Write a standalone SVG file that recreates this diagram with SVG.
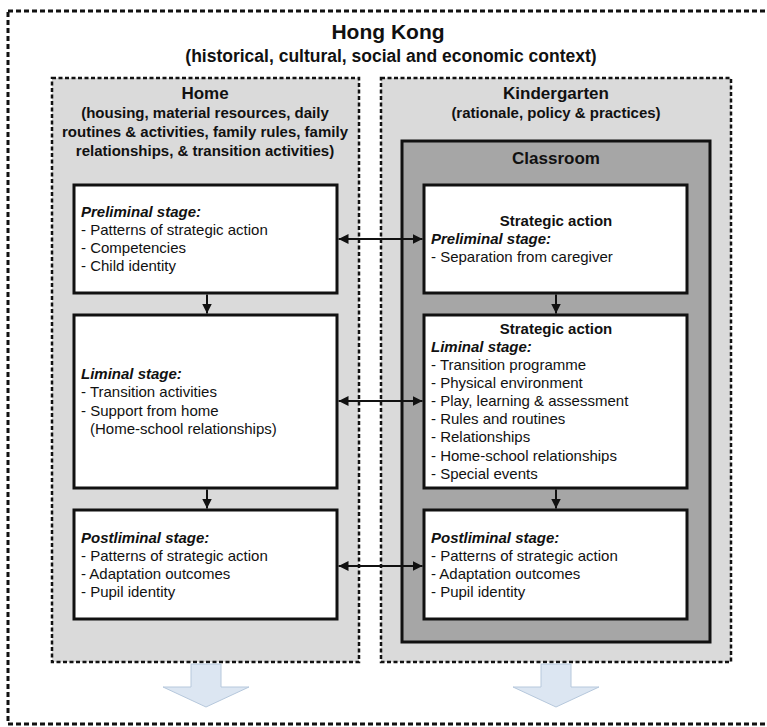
<svg xmlns="http://www.w3.org/2000/svg" width="767" height="727" viewBox="0 0 767 727">
<style>
text{font-family:"Liberation Sans",Arial,sans-serif;fill:#111}
.t{font-size:15px}
.b{font-weight:bold}
.bi{font-weight:bold;font-style:italic}
.c{text-anchor:middle}
.zone{fill:#dadada;stroke:#111;stroke-width:2.5;stroke-dasharray:4 2.5}
.box{fill:#fff;stroke:#111;stroke-width:3}
.ln{stroke:#111;stroke-width:2;fill:none}
.big{fill:#dce6f2;stroke:#b6c8dc;stroke-width:1}
</style>
<defs>
<marker id="ah" viewBox="0 0 10 10" refX="10" refY="5" markerWidth="5" markerHeight="5" orient="auto-start-reverse" markerUnits="strokeWidth">
<path d="M0,0 L10,5 L0,10 z" fill="#111"/>
</marker>
</defs>
<rect id="outer" x="8" y="11" width="790" height="713" fill="#fff" stroke="#111" stroke-width="3" stroke-dasharray="5 3"/>
<g id="title">
<text class="b c" x="388" y="39" font-size="21">Hong Kong</text>
<text class="b c" x="391" y="62" font-size="17.5">(historical, cultural, social and economic context)</text>
</g>
<g id="home">
<rect class="zone" x="52" y="78" width="307" height="584"/>
<text class="b c" x="205" y="99" font-size="17">Home</text>
<text class="t b c" x="205" y="118">(housing, material resources, daily</text>
<text class="t b c" x="205" y="137">routines &amp; activities, family rules, family</text>
<text class="t b c" x="205" y="156">relationships, &amp; transition activities)</text>
</g>
<g id="kindergarten">
<rect class="zone" x="381" y="78" width="350" height="584"/>
<text class="b c" x="556" y="99" font-size="17">Kindergarten</text>
<text class="t b c" x="556" y="118">(rationale, policy &amp; practices)</text>
</g>
<g id="classroom">
<rect x="402" y="141" width="308" height="501" fill="#a6a6a6" stroke="#111" stroke-width="3"/>
<text class="b c" x="556" y="164" font-size="17">Classroom</text>
</g>
<g id="home-preliminal">
<rect class="box" x="74" y="185" width="263" height="108"/>
<text class="t bi" x="81" y="217">Preliminal stage:</text>
<text class="t" x="81" y="235">- Patterns of strategic action</text>
<text class="t" x="81" y="253">- Competencies</text>
<text class="t" x="81" y="271">- Child identity</text>
</g>
<g id="home-liminal">
<rect class="box" x="74" y="315" width="263" height="173"/>
<text class="t bi" x="81" y="379">Liminal stage:</text>
<text class="t" x="81" y="397">- Transition activities</text>
<text class="t" x="81" y="416">- Support from home</text>
<text class="t" x="90" y="434">(Home-school relationships)</text>
</g>
<g id="home-postliminal">
<rect class="box" x="74" y="510" width="263" height="109"/>
<text class="t bi" x="81" y="543">Postliminal stage:</text>
<text class="t" x="81" y="561">- Patterns of strategic action</text>
<text class="t" x="81" y="579">- Adaptation outcomes</text>
<text class="t" x="81" y="597">- Pupil identity</text>
</g>
<g id="class-preliminal">
<rect class="box" x="424" y="185" width="263" height="108"/>
<text class="t b c" x="556" y="226">Strategic action</text>
<text class="t bi" x="431" y="244">Preliminal stage:</text>
<text class="t" x="431" y="262">- Separation from caregiver</text>
</g>
<g id="class-liminal">
<rect class="box" x="424" y="315" width="263" height="173"/>
<text class="t b c" x="556" y="334">Strategic action</text>
<text class="t bi" x="431" y="352">Liminal stage:</text>
<text class="t" x="431" y="370">- Transition programme</text>
<text class="t" x="431" y="388">- Physical environment</text>
<text class="t" x="431" y="406">- Play, learning &amp; assessment</text>
<text class="t" x="431" y="424">- Rules and routines</text>
<text class="t" x="431" y="442">- Relationships</text>
<text class="t" x="431" y="461">- Home-school relationships</text>
<text class="t" x="431" y="479">- Special events</text>
</g>
<g id="class-postliminal">
<rect class="box" x="424" y="510" width="263" height="109"/>
<text class="t bi" x="431" y="543">Postliminal stage:</text>
<text class="t" x="431" y="561">- Patterns of strategic action</text>
<text class="t" x="431" y="579">- Adaptation outcomes</text>
<text class="t" x="431" y="597">- Pupil identity</text>
</g>
<g id="connectors">
<line class="ln" x1="207" y1="294.5" x2="207" y2="313.5" marker-end="url(#ah)"/>
<line class="ln" x1="207" y1="489.5" x2="207" y2="508.5" marker-end="url(#ah)"/>
<line class="ln" x1="556" y1="294.5" x2="556" y2="313.5" marker-end="url(#ah)"/>
<line class="ln" x1="556" y1="489.5" x2="556" y2="508.5" marker-end="url(#ah)"/>
<line class="ln" x1="338.5" y1="239" x2="422.5" y2="239" marker-start="url(#ah)" marker-end="url(#ah)"/>
<line class="ln" x1="338.5" y1="401" x2="422.5" y2="401" marker-start="url(#ah)" marker-end="url(#ah)"/>
<line class="ln" x1="338.5" y1="566" x2="422.5" y2="566" marker-start="url(#ah)" marker-end="url(#ah)"/>
<polygon class="big" points="191,664 221,664 221,687 249,687 206,707 163,687 191,687"/>
<polygon class="big" points="541,664 571,664 571,687 599,687 556,707 513,687 541,687"/>
</g>
</svg>
